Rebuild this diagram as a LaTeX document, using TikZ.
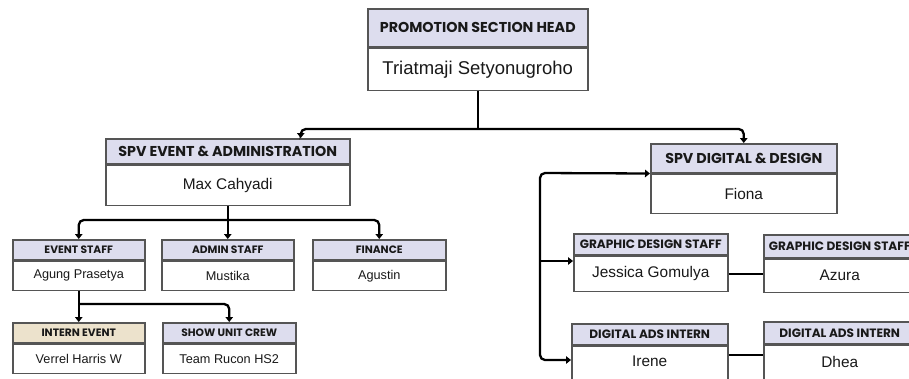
\documentclass[tikz,border=0pt]{standalone}
\usepackage{fontspec}
\setmainfont{Liberation Sans}
\newfontfamily\hfont{Poppins}
\usetikzlibrary{arrows.meta}
\definecolor{hdr}{RGB}{221,221,238}
\definecolor{hdrtan}{RGB}{236,226,204}
\definecolor{bord}{RGB}{85,85,85}
\definecolor{ink}{RGB}{25,25,25}
\tikzset{
  hbox/.style={draw=bord,line width=1.5pt,fill=hdr,rectangle,inner sep=0pt,anchor=north west,text=ink},
  bbox/.style={draw=bord,line width=1.5pt,fill=white,rectangle,inner sep=0pt,anchor=north west,text=ink},
  hA/.style={font=\hfont\bfseries\fontsize{14.3}{14}\selectfont},
  hB/.style={font=\hfont\bfseries\fontsize{12.1}{12}\selectfont},
  hC/.style={font=\hfont\bfseries\fontsize{10.7}{11}\selectfont},
  bA/.style={font=\fontsize{18.5}{19}\selectfont},
  bB/.style={font=\fontsize{15.4}{15}\selectfont},
  bC/.style={font=\fontsize{12.7}{13}\selectfont},
  conn/.style={line width=2.3pt,draw=black,rounded corners=5pt},
  tip/.style={-{Triangle[width=7.5pt,length=5pt]}},
  tips/.style={{Triangle[width=7.5pt,length=5pt]}-{Triangle[width=7.5pt,length=5pt]}}
}
\begin{document}
\begin{tikzpicture}[x=1pt,y=-1pt]
\useasboundingbox (0,0) rectangle (909,378);
\clip (0,0) rectangle (909,378);
\fill[white] (0,0) rectangle (909,378);
% top
\node[hbox,hA,minimum width=220pt,minimum height=38pt] (topH) at (367,8) {PROMOTION SECTION HEAD};
\node[bbox,bA,minimum width=220pt,minimum height=42pt] (topB) at (topH.south west) {Triatmaji Setyonugroho};
% spv event
\node[hbox,hA,minimum width=244pt,minimum height=25pt] (spvEH) at (105,138) {SPV EVENT \& ADMINISTRATION};
\node[bbox,bB,minimum width=244pt,minimum height=40pt] (spvEB) at (spvEH.south west) {Max Cahyadi};
% spv digital
\node[hbox,hA,minimum width=186pt,minimum height=29pt] (spvDH) at (650,143) {SPV DIGITAL \& DESIGN};
\node[bbox,bB,minimum width=186pt,minimum height=39pt] (spvDB) at (spvDH.south west) {Fiona};
% row 1 left
\node[hbox,hC,minimum width=132pt,minimum height=20pt] (evH) at (12,239) {EVENT STAFF};
\node[bbox,bC,minimum width=132pt,minimum height=29pt] (evB) at (evH.south west) {Agung Prasetya};
\node[hbox,hC,minimum width=132pt,minimum height=20pt] (adH) at (161,239) {ADMIN STAFF};
\node[bbox,bC,minimum width=132pt,minimum height=29pt] (adB) at (adH.south west) {Mustika};
\node[hbox,hC,minimum width=133pt,minimum height=20pt] (fiH) at (312,239) {FINANCE};
\node[bbox,bC,minimum width=133pt,minimum height=29pt] (fiB) at (fiH.south west) {Agustin};
% row 2 left
\node[hbox,hC,fill=hdrtan,minimum width=132pt,minimum height=20pt] (inH) at (12,322) {INTERN EVENT};
\node[bbox,bC,minimum width=132pt,minimum height=29pt] (inB) at (inH.south west) {Verrel Harris W};
\node[hbox,hC,minimum width=133pt,minimum height=20pt] (shH) at (162,322) {SHOW UNIT CREW};
\node[bbox,bC,minimum width=133pt,minimum height=29pt] (shB) at (shH.south west) {Team Rucon HS2};
% right side
\node[hbox,hB,minimum width=154pt,minimum height=21pt] (g1H) at (573,233) {GRAPHIC DESIGN STAFF};
\node[bbox,bB,minimum width=154pt,minimum height=35pt] (g1B) at (g1H.south west) {Jessica Gomulya};
\node[hbox,hB,minimum width=152pt,minimum height=23pt] (g2H) at (763,234) {GRAPHIC DESIGN STAFF};
\node[bbox,bB,minimum width=152pt,minimum height=33pt] (g2B) at (g2H.south west) {Azura};
\node[hbox,hB,minimum width=156pt,minimum height=21pt] (d1H) at (571,323) {DIGITAL ADS INTERN};
\node[bbox,bB,minimum width=156pt,minimum height=50pt] (d1B) at (d1H.south west) {};
\node[bB,text=ink] (d1T) at ([yshift=-16pt]d1B.north) {Irene};
\node[hbox,hB,minimum width=152pt,minimum height=22pt] (d2H) at (763,321) {DIGITAL ADS INTERN};
\node[bbox,bB,minimum width=152pt,minimum height=34pt] (d2B) at (d2H.south west) {Dhea};
% connectors
\coordinate (j1) at ([yshift=-38pt]topB.south);
\draw[conn] (topB.south) -- (j1);
\draw[conn,tips] ([xshift=73pt]spvEH.north) |- (j1) -| (spvDH.north);
\coordinate (j2) at ([yshift=-14pt]spvEB.south);
\draw[conn,tip] (spvEB.south) -- (adH.north);
\draw[conn,tips] (evH.north) |- (j2) -| (fiH.north);
\coordinate (j3) at ([yshift=-13pt]evB.south);
\draw[conn,tip] (evB.south) -- (inH.north);
\draw[conn,tip] (j3) -| (shH.north);
\coordinate (brT) at (540,173);
\coordinate (brM) at (540,261);
\coordinate (brB) at (540,360);
\coordinate (dl) at (0,355);
\draw[conn,tips] (spvDB.north west) -- (brT) -- (brB) -- (d1B.west |- brB);
\draw[conn,tip] (brM) -- (g1B.west |- brM);
\draw[conn] (g1B.east) -- (g2B.west |- g1B.east);
\draw[conn] (d1B.east |- dl) -- (d2B.west |- dl);
\end{tikzpicture}
\end{document}
